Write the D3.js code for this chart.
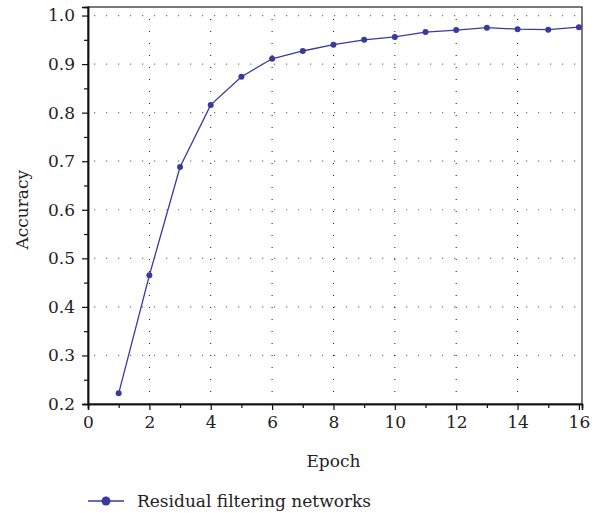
<!DOCTYPE html>
<html>
<head>
<meta charset="utf-8">
<script src="https://cdn.jsdelivr.net/npm/d3@7"></script>
<style>
  body { margin: 0; background: #fff; }
</style>
</head>
<body>
<div id="chart"></div>
<script>
const epochs = [1, 2, 3, 4, 5, 6, 7, 8, 9, 10, 11, 12, 13, 14, 15, 16];
const accuracy = [0.222, 0.465, 0.688, 0.816, 0.874, 0.911, 0.927, 0.940, 0.950, 0.956,
                  0.966, 0.970, 0.975, 0.972, 0.971, 0.976];
const xTicks = [0, 2, 4, 6, 8, 10, 12, 14, 16];
const yTicks = [0.2, 0.3, 0.4, 0.5, 0.6, 0.7, 0.8, 0.9, 1.0];
const seriesName = "Residual filtering networks";

const width = 605;
const height = 513;
const margin = { left: 88, right: 23, top: 7, bottom: 109 };
const color = "#3a3a9e";
const serif = "'DejaVu Serif', serif";

const svg = d3.select("#chart")
  .append("svg")
  .attr("width", width)
  .attr("height", height)
  .style("font-family", serif);

const x = d3.scaleLinear()
  .domain([0, 16.1])
  .range([margin.left, width - margin.right]);

const y = d3.scaleLinear()
  .domain([0.2, 1.0176])
  .range([height - margin.bottom, margin.top]);

// grid
svg.append("g")
  .selectAll("line")
  .data(yTicks.slice(1))
  .enter().append("line")
  .attr("x1", margin.left + 6).attr("x2", width - margin.right)
  .attr("y1", d => y(d)).attr("y2", d => y(d))
  .attr("stroke", "#777")
  .attr("stroke-width", 1.2)
  .attr("stroke-dasharray", "1.2,10.8");

svg.append("g")
  .selectAll("line")
  .data(xTicks.slice(1, -1))
  .enter().append("line")
  .attr("x1", d => x(d)).attr("x2", d => x(d))
  .attr("y1", margin.top + 12).attr("y2", height - margin.bottom)
  .attr("stroke", "#111")
  .attr("stroke-width", 1)
  .attr("stroke-dasharray", "1,11");

// frame
svg.append("rect")
  .attr("x", margin.left).attr("y", margin.top)
  .attr("width", width - margin.left - margin.right)
  .attr("height", height - margin.top - margin.bottom)
  .attr("fill", "none")
  .attr("stroke", "#333")
  .attr("stroke-width", 1.3);

// axes
const xAxis = d3.axisBottom(x).tickValues(xTicks).tickFormat(d3.format("d")).tickSize(6).tickPadding(6);
const xMinor = d3.axisBottom(x).tickValues(d3.range(1, 16, 2)).tickFormat("").tickSize(4);
const yAxis = d3.axisLeft(y).tickValues(yTicks).tickFormat(d3.format(".1f")).tickSize(6).tickPadding(7);
const yMinor = d3.axisLeft(y).tickValues(d3.range(0.25, 1.0, 0.1)).tickFormat("").tickSize(4);

function styleAxis(g) {
  g.attr("font-family", null);
  g.select(".domain").attr("stroke", "#111").attr("stroke-width", 1.5);
  g.selectAll(".tick line").attr("stroke", "#111").attr("stroke-width", 1.2);
  g.selectAll(".tick text")
    .style("font-family", serif)
    .style("font-size", "17px")
    .attr("fill", "#222");
}

svg.append("g").attr("transform", `translate(0,${height - margin.bottom})`).call(xAxis).call(styleAxis);
svg.append("g").attr("transform", `translate(0,${height - margin.bottom})`).call(xMinor).call(styleAxis);
svg.append("g").attr("transform", `translate(${margin.left},0)`).call(yAxis).call(styleAxis);
svg.append("g").attr("transform", `translate(${margin.left},0)`).call(yMinor).call(styleAxis);

// axis titles
svg.append("text")
  .attr("x", x(8)).attr("y", 467)
  .attr("text-anchor", "middle")
  .attr("fill", "#222")
  .style("font-family", serif)
  .style("font-size", "17px")
  .text("Epoch");

svg.append("text")
  .attr("transform", `translate(28,${y(0.6)}) rotate(-90)`)
  .attr("text-anchor", "middle")
  .attr("fill", "#222")
  .style("font-family", serif)
  .style("font-size", "17px")
  .text("Accuracy");

// series
const data = epochs.map((e, i) => ({ e: e, a: accuracy[i] }));

svg.append("path")
  .datum(data)
  .attr("d", d3.line().x(d => x(d.e)).y(d => y(d.a)))
  .attr("fill", "none")
  .attr("stroke", color)
  .attr("stroke-width", 1.3);

svg.append("g")
  .selectAll("circle")
  .data(data)
  .enter().append("circle")
  .attr("cx", d => x(d.e))
  .attr("cy", d => y(d.a))
  .attr("r", 3)
  .attr("fill", color);

// legend
const legend = svg.append("g").attr("transform", "translate(88,501)");
legend.append("line")
  .attr("x1", 0).attr("x2", 36)
  .attr("stroke", color).attr("stroke-width", 1.3);
legend.append("circle")
  .attr("cx", 18).attr("r", 4.5).attr("fill", color);
legend.append("text")
  .attr("x", 49).attr("y", 6)
  .attr("fill", "#222")
  .style("font-family", serif)
  .style("font-size", "17px")
  .text(seriesName);
</script>
</body>
</html>
